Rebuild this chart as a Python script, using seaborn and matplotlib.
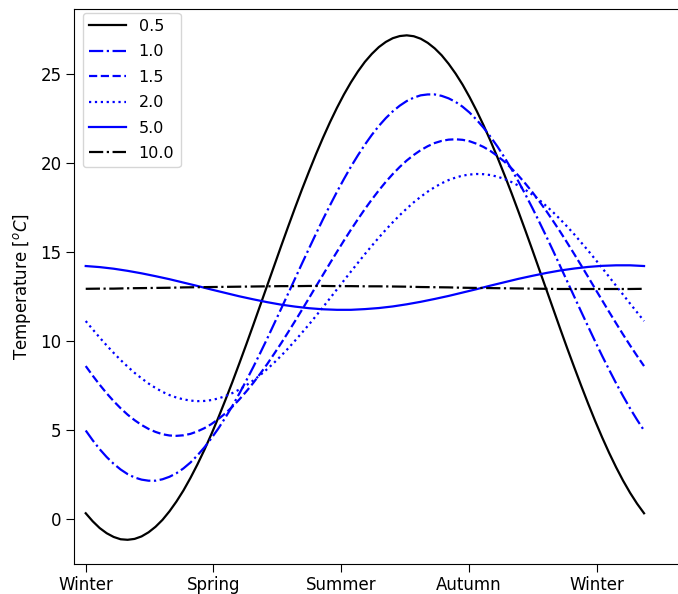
import matplotlib
matplotlib.use("Agg")
import matplotlib.pyplot as plt
import seaborn as sns
import pandas as pd

# time axis (days) for the strongly curved series and for the flatter series
days_fine = [0, 5, 10, 15, 20, 25, 30, 35, 40, 45, 50, 55, 60, 65, 70, 75, 80, 85, 90,
             95, 100, 105, 110, 115, 120, 125, 130, 135, 140, 145, 150, 155, 160, 165,
             170, 175, 180, 185, 190, 195, 200, 205, 210, 215, 220, 225, 230, 235, 240,
             245, 250, 255, 260, 265, 270, 275, 280, 285, 290, 295, 300, 305, 310, 315,
             320, 325, 330, 335, 340, 345, 350, 355, 360, 365, 370, 375, 380, 385, 390,
             395, 400]
days = [0, 10, 20, 30, 40, 50, 60, 70, 80, 90, 100, 110, 120, 130, 140, 150, 160,
        170, 180, 190, 200, 210, 220, 230, 240, 250, 260, 270, 280, 290, 300, 310,
        320, 330, 340, 350, 360, 370, 380, 390, 400]

t_05 = [0.30, -0.15, -0.53, -0.82, -1.03, -1.16, -1.19, -1.14, -1.00, -0.77, -0.46,
        -0.07, 0.41, 0.96, 1.58, 2.28, 3.04, 3.86, 4.74, 5.67, 6.65, 7.66, 8.71, 9.78,
        10.87, 11.98, 13.09, 14.20, 15.31, 16.40, 17.47, 18.51, 19.51, 20.48, 21.40,
        22.27, 23.08, 23.83, 24.51, 25.12, 25.66, 26.11, 26.49, 26.78, 26.99, 27.11,
        27.15, 27.10, 26.96, 26.73, 26.42, 26.03, 25.55, 25.00, 24.38, 23.68, 22.92,
        22.10, 21.22, 20.29, 19.31, 18.30, 17.25, 16.18, 15.09, 13.98, 12.87, 11.76,
        10.65, 9.56, 8.50, 7.46, 6.45, 5.48, 4.56, 3.69, 2.88, 2.13, 1.45, 0.84, 0.30]
t_10 = [4.95, 4.40, 3.90, 3.46, 3.08, 2.76, 2.50, 2.31, 2.19, 2.13, 2.13, 2.21, 2.35,
        2.55, 2.82, 3.15, 3.55, 4.00, 4.51, 5.06, 5.67, 6.32, 7.02, 7.75, 8.51, 9.30,
        10.11, 10.95, 11.79, 12.64, 13.49, 14.34, 15.18, 16.01, 16.82, 17.60, 18.36,
        19.08, 19.77, 20.41, 21.01, 21.56, 22.06, 22.50, 22.88, 23.20, 23.46, 23.65,
        23.78, 23.83, 23.83, 23.75, 23.61, 23.41, 23.14, 22.81, 22.41, 21.96, 21.45,
        20.90, 20.29, 19.64, 18.94, 18.21, 17.45, 16.66, 15.85, 15.02, 14.17, 13.32,
        12.47, 11.62, 10.78, 9.95, 9.14, 8.36, 7.60, 6.88, 6.19, 5.55, 4.95]
t_15 = [8.57, 8.03, 7.52, 7.04, 6.60, 6.20, 5.84, 5.53, 5.26, 5.04, 4.87, 4.74, 4.67,
        4.65, 4.68, 4.76, 4.90, 5.08, 5.31, 5.59, 5.91, 6.28, 6.69, 7.14, 7.62, 8.14,
        8.68, 9.26, 9.85, 10.47, 11.10, 11.74, 12.39, 13.05, 13.70, 14.35, 14.99, 15.62,
        16.23, 16.82, 17.39, 17.93, 18.44, 18.92, 19.36, 19.76, 20.12, 20.43, 20.70,
        20.92, 21.10, 21.22, 21.29, 21.31, 21.28, 21.20, 21.06, 20.88, 20.65, 20.37,
        20.05, 19.68, 19.27, 18.82, 18.34, 17.82, 17.28, 16.70, 16.11, 15.49, 14.86,
        14.22, 13.57, 12.91, 12.26, 11.61, 10.97, 10.34, 9.73, 9.14, 8.57]
t_20 = [11.10, 10.63, 10.17, 9.73, 9.31, 8.91, 8.54, 8.19, 7.88, 7.59, 7.34, 7.12, 6.94,
        6.80, 6.70, 6.63, 6.60, 6.61, 6.66, 6.75, 6.88, 7.05, 7.25, 7.49, 7.76, 8.06,
        8.40, 8.76, 9.15, 9.56, 10.00, 10.45, 10.91, 11.39, 11.88, 12.38, 12.88, 13.38,
        13.88, 14.37, 14.86, 15.33, 15.79, 16.23, 16.65, 17.05, 17.42, 17.77, 18.08,
        18.37, 18.62, 18.84, 19.02, 19.16, 19.27, 19.33, 19.36, 19.35, 19.30, 19.21,
        19.08, 18.91, 18.71, 18.47, 18.20, 17.90, 17.56, 17.20, 16.81, 16.40, 15.97,
        15.51, 15.05, 14.57, 14.08, 13.58, 13.08, 12.58, 12.08, 11.59, 11.10]
t_50 = [14.19, 14.13, 14.04, 13.92, 13.78, 13.62, 13.45, 13.26, 13.07, 12.87, 12.68,
        12.49, 12.32, 12.16, 12.02, 11.91, 11.82, 11.76, 11.73, 11.73, 11.77, 11.83,
        11.92, 12.04, 12.18, 12.34, 12.51, 12.70, 12.89, 13.09, 13.28, 13.47, 13.64,
        13.80, 13.94, 14.05, 14.14, 14.20, 14.23, 14.23, 14.19]
t_100 = [12.91, 12.92, 12.92, 12.94, 12.95, 12.96, 12.97, 12.99, 13.00, 13.01, 13.02,
         13.03, 13.04, 13.05, 13.06, 13.06, 13.07, 13.07, 13.06, 13.06, 13.05, 13.05,
         13.04, 13.03, 13.01, 13.00, 12.99, 12.97, 12.96, 12.95, 12.94, 12.93, 12.92,
         12.91, 12.90, 12.90, 12.90, 12.90, 12.90, 12.90, 12.91]

depth_labels = ["0.5", "1.0", "1.5", "2.0", "5.0", "10.0"]
season_ticks = [0, 91.5, 183, 274.5, 366]
season_labels = ["Winter", "Spring", "Summer", "Autumn", "Winter"]

series = [(days_fine, t_05), (days_fine, t_10), (days_fine, t_15),
          (days_fine, t_20), (days, t_50), (days, t_100)]
colors = ["black", "blue", "blue", "blue", "blue", "black"]
styles = ["-", "-.", "--", ":", "-", "-."]

fig = plt.figure(figsize=(6.78, 5.94), dpi=100)
# axes extends past the right edge of the figure (right spine not visible)
ax = fig.add_axes([74 / 678, 30 / 594, 640 / 678, 555 / 594])

for (xs, vals), lab, c, ls in zip(series, depth_labels, colors, styles):
    df = pd.DataFrame({"day": xs, "temp": vals})
    sns.lineplot(data=df, x="day", y="temp", ax=ax, color=c, linestyle=ls,
                 linewidth=1.6, label=lab)

ax.set_xlim(-8.4, -8.4 + 640 / 1.3958)
ax.set_ylim(-2.55, 28.63)
ax.set_xticks(season_ticks)
ax.set_xticklabels(season_labels)
ax.set_yticks([0, 5, 10, 15, 20, 25])
ax.tick_params(labelsize=12, length=5.5)
ax.set_xlabel("")
ax.set_ylabel(r"Temperature [$^oC$]", fontsize=12, labelpad=5)

leg = ax.legend(loc="upper left", bbox_to_anchor=(8.7 / 640, 1 - 3.7 / 555),
                borderaxespad=0, fontsize=11.5, handlelength=2.3,
                labelspacing=0.65)

fig.savefig("out.png", dpi=100)
